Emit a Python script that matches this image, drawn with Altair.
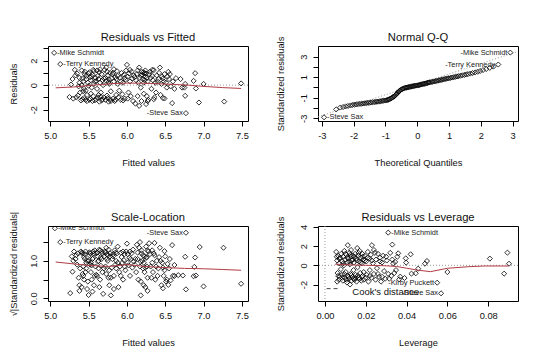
import altair as alt
import pandas as pd

FONT = "Liberation Sans"
TXT = "#111111"

# ---------------- Panel 1: Residuals vs Fitted ----------------
rvf_points = [
    (5.05, 2.64), (5.13, 1.72), (6.77, -2.29),
    (5.25, -0.97), (5.27, 0.05), (5.29, 0.5), (5.3, -1.1),
    (5.32, 1.25), (5.33, 0.8), (5.35, 0.95), (5.36, -0.85), (5.37, -0.1), (5.38, 0.2), (5.34, -1.0), (5.39, -0.6), (5.38, 0.6),
    (5.41, 1.2), (5.42, -1.15), (5.43, 0.3), (5.44, -0.3), (5.45, 0.9), (5.46, -1.2), (5.47, 0.5), (5.48, -0.8),
    (5.41, 0.0), (5.43, -0.5), (5.45, 1.1), (5.49, 0.2), (5.44, -1.05), (5.47, 0.75), (5.48, -1.3),
    (5.51, 1.05), (5.52, -1.1), (5.53, 0.4), (5.54, -0.2), (5.55, 0.85), (5.56, -0.9), (5.57, 0.1), (5.58, -1.25),
    (5.59, 0.6), (5.52, 0.65), (5.55, -1.3), (5.57, 1.15), (5.53, -0.7), (5.58, 0.3), (5.5, -0.05),
    (5.61, 1.2), (5.62, -1.0), (5.63, 0.5), (5.64, -1.35), (5.65, 0.2), (5.66, -0.6), (5.67, 0.9), (5.68, -1.15),
    (5.69, 0.0), (5.62, 0.75), (5.64, 1.05), (5.66, -0.95), (5.68, 0.4), (5.61, -0.3),
    (5.71, 1.25), (5.72, -1.2), (5.73, 0.35), (5.74, -0.85), (5.75, 0.8), (5.76, -1.35), (5.77, 0.1), (5.78, 1.0),
    (5.79, -0.5), (5.72, 0.6), (5.75, -1.05), (5.77, 0.45), (5.73, 1.45), (5.79, -1.3),
    (5.81, 0.9), (5.82, -1.1), (5.83, 0.3), (5.84, -1.3), (5.85, 0.65), (5.86, -0.8), (5.87, 1.15), (5.88, 0.1),
    (5.89, -1.0), (5.83, 1.3), (5.86, 0.5),
    (5.91, 0.6), (5.92, -1.2), (5.93, 1.0), (5.94, -0.75), (5.95, 0.2), (5.96, 0.85), (5.97, -1.1), (5.98, 0.45),
    (5.99, 1.2), (5.92, 0.3),
    (6.0, 1.66), (6.01, 0.7), (6.02, -0.6), (6.03, 0.95), (6.04, 0.3), (6.05, -0.9), (6.07, 0.55), (6.08, -1.3),
    (6.09, 0.8), (6.06, 1.1),
    (6.11, -1.5), (6.12, 0.4), (6.13, 0.9), (6.14, -0.9), (6.16, 1.44), (6.16, -1.69), (6.17, 0.6), (6.18, -0.2),
    (6.19, 1.1), (6.15, 0.2),
    (6.2, 0.85), (6.21, 0.5), (6.22, -0.7), (6.23, 1.0), (6.24, 0.7), (6.25, -1.55), (6.26, 0.6), (6.27, 0.3),
    (6.28, -1.2), (6.29, 0.9), (6.22, 0.2), (6.26, -0.9), (6.24, 1.2),
    (6.31, 0.6), (6.32, -0.3), (6.33, 1.25), (6.34, 0.4), (6.35, 1.23), (6.36, -1.0), (6.37, 0.2), (6.38, -0.6), (6.39, 0.8),
    (6.41, 0.5), (6.43, 1.44), (6.44, -0.8), (6.45, 0.1), (6.46, 0.7), (6.47, -1.05), (6.48, 0.3), (6.49, -1.09), (6.49, 0.9),
    (6.51, 0.2), (6.52, -0.2), (6.54, 1.09), (6.55, 0.5), (6.57, -0.1), (6.59, -1.47),
    (6.64, 0.57), (6.70, 0.5), (6.72, -0.2), (6.75, -0.2), (6.76, 0.1), (6.76, -0.87), (6.87, 0.35), (6.89, 0.98),
    (6.9, -0.27), (6.94, -1.42), (7.0, 0.1), (7.27, -1.34), (7.49, 0.14),
    (5.4, -1.25), (5.42, 0.55), (5.46, -0.45), (5.5, 0.95), (5.51, -1.2), (5.54, 0.7), (5.56, 1.25), (5.6, -1.15),
    (5.6, 0.35), (5.63, -0.8), (5.65, 1.3), (5.67, -1.25), (5.7, 0.55), (5.7, -1.0), (5.74, 1.1), (5.76, 0.25),
    (5.78, -1.15), (5.8, 0.55), (5.82, 1.0), (5.85, -1.2), (5.88, 0.75), (5.9, -0.45), (5.95, -1.25), (5.97, 0.6),
    (6.01, -1.1), (6.04, 1.25), (6.1, 0.65), (6.14, 1.2), (6.18, 0.8), (6.19, -1.3), (6.21, 1.05), (6.23, 0.4),
    (6.25, 0.95), (6.27, -1.3), (6.3, 1.1), (6.33, 0.75), (6.35, -1.15), (6.4, 0.3), (6.42, 1.0), (6.47, 0.55),
    (6.53, 0.7), (6.56, 0.9), (6.6, 0.3), (6.62, -0.3),
]
rvf_smooth_x = [5.07, 5.3, 5.6, 5.8, 6.0, 6.2, 6.4, 6.6, 6.8, 7.0, 7.25, 7.49]
rvf_smooth_y = [-0.22, -0.15, 0.02, 0.12, 0.17, 0.16, 0.12, 0.06, 0.0, -0.1, -0.2, -0.27]
rvf_label_names = ["-Mike Schmidt", "-Terry Kennedy", "-Steve Sax"]
rvf_label_x = [5.05, 5.13, 6.77]
rvf_label_y = [2.64, 1.72, -2.29]
rvf_label_side = ["right", "right", "left"]

# ---------------- Panel 2: Normal Q-Q ----------------
qq_points = [
    (-2.93, -2.9), (-2.55, -2.13), (-2.42, -1.95), (-2.33, -1.9), (-2.25, -1.84), (-2.18, -1.8), (-2.1, -1.75),
    (-2.04, -1.71), (-1.98, -1.67), (-1.92, -1.65), (-1.86, -1.62), (-1.8, -1.6), (-1.75, -1.58), (-1.7, -1.56),
    (-1.65, -1.54), (-1.6, -1.52), (-1.55, -1.5), (-1.5, -1.48), (-1.45, -1.46), (-1.4, -1.44), (-1.35, -1.42),
    (-1.3, -1.4), (-1.26, -1.38), (-1.22, -1.37), (-1.18, -1.35), (-1.14, -1.33), (-1.1, -1.3), (-1.06, -1.28),
    (-1.02, -1.27), (-0.98, -1.25), (-0.95, -1.22), (-0.92, -1.2), (-0.89, -1.16), (-0.86, -1.12), (-0.83, -1.07),
    (-0.8, -1.02), (-0.77, -0.96), (-0.74, -0.9), (-0.72, -0.84), (-0.7, -0.8), (-0.67, -0.7), (-0.65, -0.64),
    (-0.63, -0.57), (-0.61, -0.5), (-0.59, -0.43), (-0.57, -0.37), (-0.55, -0.32), (-0.53, -0.27), (-0.5, -0.2),
    (-0.47, -0.15), (-0.44, -0.11), (-0.41, -0.07), (-0.38, -0.04), (-0.35, -0.02), (-0.32, 0.0), (-0.29, 0.02),
    (-0.26, 0.04), (-0.23, 0.06), (-0.2, 0.08), (-0.17, 0.1), (-0.14, 0.12), (-0.11, 0.14), (-0.08, 0.16),
    (-0.05, 0.18), (-0.02, 0.19), (0.01, 0.2), (0.04, 0.22), (0.07, 0.24), (0.1, 0.27), (0.13, 0.3), (0.16, 0.32),
    (0.19, 0.34), (0.22, 0.36), (0.25, 0.38), (0.28, 0.41), (0.31, 0.43), (0.34, 0.46), (0.37, 0.48), (0.4, 0.5),
    (0.44, 0.53), (0.48, 0.55), (0.52, 0.58), (0.56, 0.6), (0.6, 0.63), (0.64, 0.66), (0.68, 0.69), (0.72, 0.72),
    (0.76, 0.74), (0.8, 0.77), (0.84, 0.8), (0.88, 0.83), (0.92, 0.85), (0.96, 0.88), (1.0, 0.9), (1.05, 0.93),
    (1.1, 0.97), (1.15, 1.0), (1.2, 1.03), (1.25, 1.07), (1.3, 1.1), (1.36, 1.14), (1.42, 1.18), (1.48, 1.22),
    (1.54, 1.26), (1.6, 1.3), (1.67, 1.35), (1.74, 1.4), (1.82, 1.46), (1.9, 1.53), (1.98, 1.6), (2.07, 1.69),
    (2.17, 1.79), (2.28, 1.9), (2.4, 2.03), (2.55, 2.23), (2.93, 3.39),
]
qq_line_x = [-3.2, 3.2]
qq_line_y = [-2.93, 3.53]
qq_label_names = ["-Mike Schmidt", "-Terry Kennedy", "-Steve Sax"]
qq_label_x = [2.93, 2.55, -2.93]
qq_label_y = [3.39, 2.23, -2.9]
qq_label_side = ["left", "left", "right"]

# ---------------- Panel 3: Scale-Location ----------------
sl_points = [
    (5.06, 1.87), (5.13, 1.5), (6.77, 1.75),
    (5.26, 0.14), (5.29, 0.71), (5.28, 1.12), (5.3, 1.0),
    (5.31, 1.25), (5.33, 1.05), (5.35, 0.9), (5.36, 1.2), (5.38, 0.35), (5.37, 0.55), (5.34, 1.15), (5.39, 0.8), (5.38, 0.2),
    (5.41, 1.22), (5.42, 1.2), (5.43, 0.6), (5.44, 0.5), (5.45, 1.05), (5.46, 1.25), (5.47, 0.8), (5.48, 1.0),
    (5.41, 0.3), (5.43, 0.85), (5.45, 1.18), (5.49, 0.45), (5.44, 1.1), (5.47, 0.95), (5.48, 0.25),
    (5.5, 0.09), (5.51, 1.15), (5.52, 1.2), (5.53, 0.7), (5.54, 0.5), (5.55, 1.05), (5.56, 1.07), (5.57, 0.35),
    (5.58, 1.28), (5.59, 0.85), (5.52, 0.9), (5.55, 0.18), (5.57, 1.2), (5.53, 0.95), (5.58, 0.6),
    (5.61, 1.22), (5.62, 1.12), (5.63, 0.8), (5.64, 1.3), (5.65, 0.5), (5.66, 0.87), (5.67, 1.05), (5.68, 1.2),
    (5.69, 0.12), (5.62, 0.98), (5.64, 0.3), (5.66, 1.1), (5.68, 0.7), (5.61, 0.6),
    (5.71, 1.25), (5.72, 1.22), (5.73, 0.65), (5.74, 1.05), (5.75, 1.0), (5.76, 1.3), (5.77, 0.35), (5.78, 1.12),
    (5.79, 0.08), (5.72, 0.85), (5.75, 1.15), (5.77, 0.75), (5.73, 1.35), (5.79, 0.55),
    (5.81, 1.05), (5.82, 1.18), (5.83, 0.6), (5.84, 1.28), (5.85, 0.9), (5.86, 1.0), (5.87, 1.2), (5.88, 1.38),
    (5.89, 0.3), (5.83, 0.25), (5.86, 0.8),
    (5.91, 0.85), (5.92, 1.22), (5.93, 1.1), (5.94, 0.95), (5.95, 0.5), (5.96, 1.02), (5.97, 1.18), (5.98, 0.75),
    (5.99, 1.25), (5.92, 0.6),
    (6.0, 1.46), (6.01, 0.95), (6.02, 0.88), (6.03, 1.08), (6.04, 0.6), (6.05, 1.05), (6.07, 0.82), (6.08, 1.3),
    (6.09, 0.98), (6.06, 1.2),
    (6.13, 1.43), (6.12, 0.7), (6.11, 1.05), (6.14, 1.05), (6.17, 1.5), (6.18, 0.08), (6.17, 0.85), (6.18, 0.45),
    (6.19, 1.2), (6.15, 0.5), (6.16, 1.35),
    (6.2, 1.0), (6.21, 0.8), (6.22, 0.95), (6.23, 1.12), (6.24, 0.82), (6.25, 1.38), (6.26, 0.85), (6.27, 0.55),
    (6.28, 1.25), (6.29, 1.47), (6.22, 0.35), (6.26, 1.1), (6.24, 0.3), (6.27, 0.2),
    (6.31, 0.85), (6.32, 0.55), (6.33, 1.28), (6.34, 0.7), (6.36, 1.48), (6.36, 1.15), (6.37, 0.5), (6.38, 0.85), (6.39, 1.0),
    (6.41, 0.8), (6.43, 1.35), (6.44, 1.0), (6.45, 0.35), (6.46, 0.95), (6.47, 0.27), (6.48, 0.6), (6.49, 1.26),
    (6.49, 0.75), (6.5, 1.12),
    (6.51, 0.45), (6.52, 0.5), (6.54, 0.36), (6.55, 0.8), (6.57, 0.48), (6.59, 1.42),
    (6.62, 0.89), (6.67, 0.62), (6.73, 0.61), (6.76, 1.11), (6.77, 0.24), (6.87, 0.59), (6.88, 0.84), (6.89, 1.09),
    (6.9, 0.61), (6.95, 1.37), (7.0, 0.32), (7.26, 1.35), (7.49, 0.39),
    (5.4, 1.25), (5.42, 0.65), (5.46, 0.7), (5.5, 1.0), (5.51, 1.23), (5.54, 0.88), (5.56, 1.25), (5.6, 1.2),
    (5.6, 0.63), (5.63, 1.0), (5.65, 1.28), (5.67, 1.25), (5.7, 0.8), (5.7, 1.12), (5.74, 1.18), (5.76, 0.55),
    (5.78, 1.2), (5.8, 0.82), (5.82, 1.12), (5.85, 1.22), (5.88, 0.95), (5.9, 0.7), (5.95, 1.25), (5.97, 0.85),
    (6.01, 1.18), (6.04, 1.25), (6.1, 0.9), (6.14, 1.22), (6.18, 0.98), (6.19, 1.28), (6.21, 1.15), (6.23, 0.7),
    (6.25, 1.08), (6.27, 1.28), (6.3, 1.18), (6.33, 0.95), (6.35, 1.2), (6.4, 0.6), (6.42, 1.1), (6.47, 0.82),
    (6.53, 0.92), (6.56, 1.05), (6.6, 0.6), (6.62, 0.6),
]
sl_smooth_x = [5.07, 5.3, 5.5, 5.75, 6.0, 6.25, 6.5, 6.75, 7.0, 7.25, 7.49]
sl_smooth_y = [0.97, 0.92, 0.88, 0.85, 0.9, 0.85, 0.82, 0.8, 0.79, 0.77, 0.75]
sl_label_names = ["-Mike Schmidt", "-Terry Kennedy", "-Steve Sax"]
sl_label_x = [5.06, 5.13, 6.77]
sl_label_y = [1.87, 1.5, 1.75]
sl_label_side = ["right", "right", "left"]

# ---------------- Panel 4: Residuals vs Leverage ----------------
rvl_points = [
    (0.031, 3.41), (0.055, -1.81), (0.0569, -2.92),
    (0.0055, 1.4), (0.006, 0.5), (0.0062, -0.8), (0.0065, 1.0), (0.0068, -1.5), (0.007, 0.2), (0.0072, -1.2),
    (0.0075, 0.8), (0.0078, -0.4), (0.006, -1.7), (0.0058, 0.9),
    (0.008, 1.2), (0.0083, -1.0), (0.0085, 0.4), (0.0088, -1.6), (0.009, 0.9), (0.0093, 0.0), (0.0095, 1.5),
    (0.0098, -1.3), (0.01, 0.6), (0.0102, -0.7), (0.0105, 1.1), (0.0108, -1.8), (0.011, 0.3),
    (0.0112, 2.1), (0.0113, -1.1), (0.0115, 0.7), (0.0118, -1.4), (0.012, 1.3), (0.0122, 0.1), (0.0125, -0.9),
    (0.0127, 0.9), (0.013, -1.6), (0.0132, 0.5), (0.0135, -1.2), (0.0138, 1.0), (0.014, -0.5), (0.0123, -2.0), (0.0128, 1.6),
    (0.0142, 0.3), (0.0145, -1.5), (0.0148, 1.2), (0.015, -1.0), (0.0153, 0.7), (0.0155, -1.7), (0.0158, 1.8),
    (0.016, -0.2), (0.0163, 1.0), (0.0165, -1.3), (0.0168, 0.4),
    (0.017, 1.5), (0.0173, -0.8), (0.0175, 0.8), (0.0178, -1.6), (0.018, 0.2), (0.0183, 1.2), (0.0185, -1.1),
    (0.0188, 0.6), (0.019, -1.5), (0.0195, 1.0),
    (0.0202, 0.4), (0.0205, -1.0), (0.021, 1.4), (0.0213, -1.7), (0.0218, 0.7), (0.022, -0.5), (0.0225, 1.1),
    (0.0228, -1.3), (0.023, 2.1), (0.0235, 0.2), (0.024, -0.9), (0.0245, 1.3), (0.0248, -1.5),
    (0.025, 0.6), (0.0255, -0.3), (0.026, 1.2), (0.0265, -1.2), (0.027, 0.8), (0.0275, -1.7), (0.028, 0.3),
    (0.0285, 1.0), (0.029, -0.6), (0.0295, -1.4),
    (0.0303, 0.5), (0.031, -0.9), (0.032, 1.3), (0.033, 2.16), (0.0325, -1.1), (0.0335, 0.2), (0.0344, 0.35),
    (0.0348, -0.5), (0.0355, 0.9), (0.0359, 1.25),
    (0.0364, -1.46), (0.0369, -1.18), (0.039, -1.32), (0.0396, 0.73), (0.0398, 0.28), (0.042, 1.15), (0.0424, -0.87),
    (0.0445, -0.83), (0.0457, -0.35), (0.049, 0.17), (0.050, 0.45), (0.06, -0.7), (0.0808, 0.7), (0.0878, -0.87),
    (0.0894, 1.32), (0.0902, 0.17),
    (0.0065, -1.1), (0.007, 0.7), (0.0085, -1.3), (0.009, 0.2), (0.0095, -0.9), (0.01, 1.2), (0.0105, -1.5),
    (0.011, 0.8), (0.0115, -1.2), (0.012, 0.4), (0.0125, 1.1), (0.013, -1.0), (0.0135, 0.6), (0.014, -1.4),
    (0.0145, 0.9), (0.015, -1.3), (0.0155, 0.5), (0.016, -1.1), (0.0165, 1.3), (0.017, -1.4), (0.0175, 0.3),
    (0.018, -1.2), (0.0185, 0.9), (0.019, -0.7), (0.0195, 0.5), (0.02, -1.3), (0.021, 0.8), (0.022, -1.1),
    (0.023, 0.5), (0.024, 1.6), (0.026, -0.9), (0.027, 0.4), (0.028, -1.2), (0.03, 0.9), (0.0315, -1.4),
    (0.033, 0.6), (0.034, -0.8),
]
rvl_smooth_x = [0.005, 0.01, 0.015, 0.02, 0.025, 0.03, 0.035, 0.04, 0.045, 0.0517, 0.06, 0.07, 0.078, 0.09]
rvl_smooth_y = [0.12, 0.07, 0.03, 0.0, -0.02, -0.05, -0.12, -0.3, -0.49, -0.66, -0.31, -0.15, -0.07, -0.07]
rvl_label_names = ["-Mike Schmidt", "-Kirby Puckett", "-Steve Sax"]
rvl_label_x = [0.031, 0.055, 0.0569]
rvl_label_y = [3.41, -1.81, -2.92]
rvl_label_side = ["right", "left", "left"]
cook_legend_x = [0.0008, 0.0073]
cook_legend_y = -2.43
cook_text_x = 0.0134
cook_text_y = -2.75
cook_text = "Cook's distance"

panel_titles = ["Residuals vs Fitted", "Normal Q-Q", "Scale-Location", "Residuals vs Leverage"]

PW, PH = 200, 75


def make_axes(xdom, ydom, xvals, yvals, xfmt, yfmt, xtitle, ytitle, ytitle_x, ylab_expr):
    common = dict(grid=False, domain=False, tickSize=5, tickColor="black", tickWidth=1,
                  labelFont=FONT, labelFontSize=9.3, labelColor=TXT,
                  titleFont=FONT, titleFontSize=9.3, titleFontWeight="normal", titleColor=TXT)
    xaxis = alt.Axis(values=xvals, format=xfmt, title=xtitle, labelPadding=5,
                     labelExpr="replace(datum.label, '\u2212', '-')",
                     titleY=44, titleBaseline="alphabetic", **common)
    yaxis = alt.Axis(values=yvals, format=yfmt, title=ytitle, labelPadding=5,
                     labelAngle=270, labelAlign="center", labelBaseline="bottom",
                     labelExpr=ylab_expr,
                     titleX=ytitle_x, titleY=PH / 2, titleAngle=270, titleAlign="center",
                     titleBaseline="middle", **common)
    X = lambda f: alt.X(f, type="quantitative", scale=alt.Scale(domain=xdom, nice=False, zero=False), axis=xaxis)
    Y = lambda f: alt.Y(f, type="quantitative", scale=alt.Scale(domain=ydom, nice=False, zero=False), axis=yaxis)
    return X, Y


def label_layers(names, xs, ys, sides, X, Y):
    df = pd.DataFrame({"x": xs, "y": ys, "t": names, "s": sides})
    out = []
    for side, align, dx in (("right", "left", 3), ("left", "right", -3)):
        sub = df[df["s"] == side]
        if len(sub):
            out.append(alt.Chart(sub).mark_text(align=align, baseline="middle", dx=dx, font=FONT,
                                                fontSize=7.4, color="#222222", clip=True)
                       .encode(x=X("x"), y=Y("y"), text="t:N"))
    return out


def points_layer(pts, X, Y):
    df = pd.DataFrame(pts, columns=["x", "y"])
    return alt.Chart(df).mark_point(shape="diamond", filled=False, size=26, strokeWidth=0.8,
                                    color="black", opacity=1, clip=True).encode(x=X("x"), y=Y("y"))


def smooth_layer(xs, ys, X, Y):
    df = pd.DataFrame({"x": xs, "y": ys})
    return alt.Chart(df).mark_line(color="#b03c44", strokeWidth=1, clip=True).encode(x=X("x"), y=Y("y"))


def hrule(val, Y):
    return alt.Chart(pd.DataFrame({"y": [val]})).mark_rule(color="#999999", strokeDash=[1, 2],
                                                           strokeWidth=1).encode(y=Y("y"))


def title_layer(text):
    return alt.Chart(pd.DataFrame({"t": [text]})).mark_text(
        font=FONT, fontSize=11.2, color=TXT, align="center", baseline="alphabetic").encode(
        x=alt.value(PW / 2), y=alt.value(-5.5), text="t:N")


# Panel 1
X1, Y1 = make_axes([4.97, 7.58], [-2.93, 3.2], [5.0, 5.5, 6.0, 6.5, 7.0, 7.5], [-2, -1, 0, 1, 2, 3],
                   ".1f", "d", "Fitted values", "Residuals", -35,
                   "datum.value % 2 == 0 ? replace(datum.label, '\u2212', '-') : ''")
p1 = alt.layer(hrule(0, Y1), points_layer(rvf_points, X1, Y1), smooth_layer(rvf_smooth_x, rvf_smooth_y, X1, Y1),
               *label_layers(rvf_label_names, rvf_label_x, rvf_label_y, rvf_label_side, X1, Y1),
               title_layer(panel_titles[0])
               ).properties(width=PW, height=PH)

# Panel 2
X2, Y2 = make_axes([-3.12, 3.17], [-3.26, 4.03], [-3, -2, -1, 0, 1, 2, 3], [-3, -2, -1, 0, 1, 2, 3],
                   "d", "d", "Theoretical Quantiles", "Standardized residuals", -38,
                   "datum.value % 2 != 0 ? replace(datum.label, '\u2212', '-') : ''")
qq_line_df = pd.DataFrame({"x": qq_line_x, "y": qq_line_y})
qq_line = alt.Chart(qq_line_df).mark_line(color="#999999", strokeDash=[1, 2], strokeWidth=1, clip=True).encode(
    x=X2("x"), y=Y2("y"))
p2 = alt.layer(qq_line, points_layer(qq_points, X2, Y2),
               *label_layers(qq_label_names, qq_label_x, qq_label_y, qq_label_side, X2, Y2),
               title_layer(panel_titles[1])
               ).properties(width=PW, height=PH)

# Panel 3
X3, Y3 = make_axes([4.97, 7.58], [-0.07, 1.93], [5.0, 5.5, 6.0, 6.5, 7.0, 7.5], [0.0, 0.5, 1.0, 1.5],
                   ".1f", ".1f", "Fitted values", "\u221a|Standardized residuals|", -35,
                   "datum.value % 1 == 0 ? datum.label : ''")
p3 = alt.layer(points_layer(sl_points, X3, Y3), smooth_layer(sl_smooth_x, sl_smooth_y, X3, Y3),
               *label_layers(sl_label_names, sl_label_x, sl_label_y, sl_label_side, X3, Y3),
               title_layer(panel_titles[2])
               ).properties(width=PW, height=PH)

# Panel 4
X4, Y4 = make_axes([-0.0034, 0.0946], [-3.72, 4.1], [0.0, 0.02, 0.04, 0.06, 0.08], [-2, 0, 2, 4],
                   ".2f", "d", "Leverage", "Standardized residuals", -38,
                   "replace(datum.label, '\u2212', '-')")
vrule = alt.Chart(pd.DataFrame({"x": [0.0]})).mark_rule(color="#999999", strokeDash=[1, 2], strokeWidth=1).encode(
    x=X4("x"))
cook_line = alt.Chart(pd.DataFrame({"x": [cook_legend_x[0]], "x2": [cook_legend_x[1]], "y": [cook_legend_y]})
                      ).mark_rule(color="#444444", strokeDash=[4, 3], strokeWidth=1).encode(
    x=X4("x"), x2="x2:Q", y=Y4("y"))
cook_lbl = alt.Chart(pd.DataFrame({"x": [cook_text_x], "y": [cook_text_y], "t": [cook_text]})).mark_text(
    align="left", baseline="middle", font=FONT, fontSize=9.5, color=TXT).encode(x=X4("x"), y=Y4("y"), text="t:N")
p4 = alt.layer(hrule(0, Y4), vrule, points_layer(rvl_points, X4, Y4), smooth_layer(rvl_smooth_x, rvl_smooth_y, X4, Y4),
               *label_layers(rvl_label_names, rvl_label_x, rvl_label_y, rvl_label_side, X4, Y4),
               cook_line, cook_lbl, title_layer(panel_titles[3])
               ).properties(width=PW, height=PH)

chart = alt.concat(p1, p2, p3, p4, columns=2, spacing=alt.RowColnumber(row=105, column=70), bounds="flush"
                   ).properties(padding={"left": 0, "top": 23, "right": 0, "bottom": 0}, background="white"
                                ).configure_view(stroke="black", strokeWidth=1)

chart.save("out.html", embed_options={"renderer": "svg", "actions": False})
